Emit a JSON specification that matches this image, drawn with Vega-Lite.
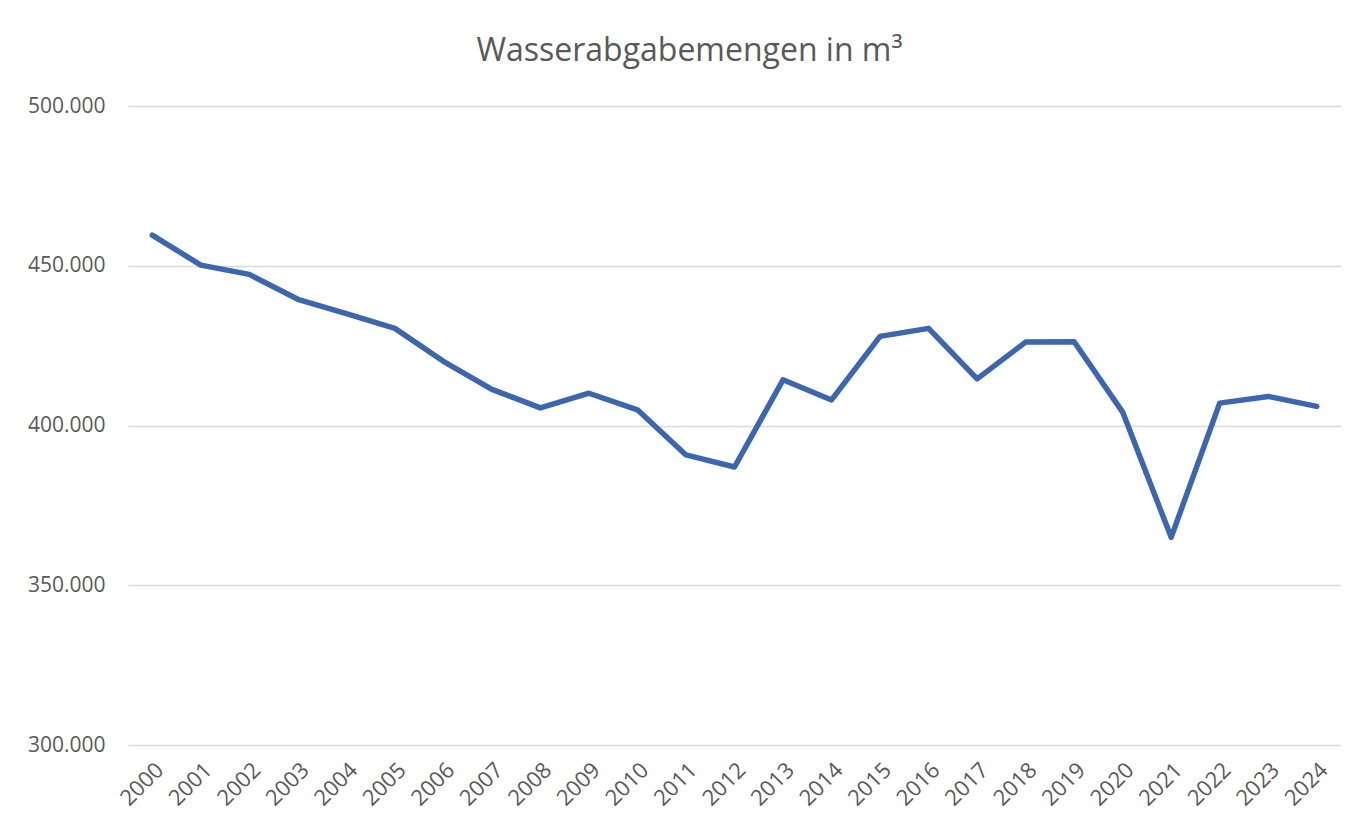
{
  "$schema": "https://vega.github.io/schema/vega-lite/v6.json",
  "width": 1213,
  "height": 639,
  "autosize": {"type": "none"},
  "padding": {"left": 128, "top": 106, "right": 19, "bottom": 82},
  "background": "white",
  "title": {
    "text": "Wasserabgabemengen in m³",
    "anchor": "middle",
    "frame": "group",
    "dx": -45,
    "offset": 2,
    "baseline": "alphabetic",
    "font": "Open Sans",
    "fontSize": 32,
    "fontWeight": "normal",
    "color": "#595959"
  },
  "data": {
    "values": [
      {"jahr": "2000", "menge": 459600},
      {"jahr": "2001", "menge": 450200},
      {"jahr": "2002", "menge": 447300},
      {"jahr": "2003", "menge": 439500},
      {"jahr": "2004", "menge": 435000},
      {"jahr": "2005", "menge": 430400},
      {"jahr": "2006", "menge": 420100},
      {"jahr": "2007", "menge": 411300},
      {"jahr": "2008", "menge": 405500},
      {"jahr": "2009", "menge": 410100},
      {"jahr": "2010", "menge": 404900},
      {"jahr": "2011", "menge": 390800},
      {"jahr": "2012", "menge": 387000},
      {"jahr": "2013", "menge": 414300},
      {"jahr": "2014", "menge": 408000},
      {"jahr": "2015", "menge": 427900},
      {"jahr": "2016", "menge": 430400},
      {"jahr": "2017", "menge": 414600},
      {"jahr": "2018", "menge": 426100},
      {"jahr": "2019", "menge": 426200},
      {"jahr": "2020", "menge": 404200},
      {"jahr": "2021", "menge": 365000},
      {"jahr": "2022", "menge": 407000},
      {"jahr": "2023", "menge": 409100},
      {"jahr": "2024", "menge": 406000}
    ]
  },
  "mark": {"type": "line", "color": "#3c66ae", "strokeWidth": 5.5, "strokeCap": "round", "strokeJoin": "round"},
  "encoding": {
    "x": {
      "field": "jahr",
      "type": "ordinal",
      "scale": {"type": "point", "padding": 0.5},
      "axis": {
        "title": null,
        "labelAngle": -45,
        "labelFont": "Open Sans",
        "labelFontSize": 22,
        "labelColor": "#595959",
        "ticks": false,
        "domain": false,
        "grid": false,
        "labelPadding": 14
      }
    },
    "y": {
      "field": "menge",
      "type": "quantitative",
      "scale": {"domain": [300000, 500000], "nice": false, "zero": false},
      "axis": {
        "title": null,
        "values": [300000, 350000, 400000, 450000, 500000],
        "labelExpr": "replace(format(datum.value, ',.0f'), ',', '.')",
        "labelFont": "Open Sans",
        "labelFontSize": 21,
        "labelColor": "#595959",
        "ticks": false,
        "domain": false,
        "labelPadding": 23,
        "gridColor": "#d9d9d9",
        "gridWidth": 1.5
      }
    }
  },
  "config": {"view": {"stroke": null}}
}
